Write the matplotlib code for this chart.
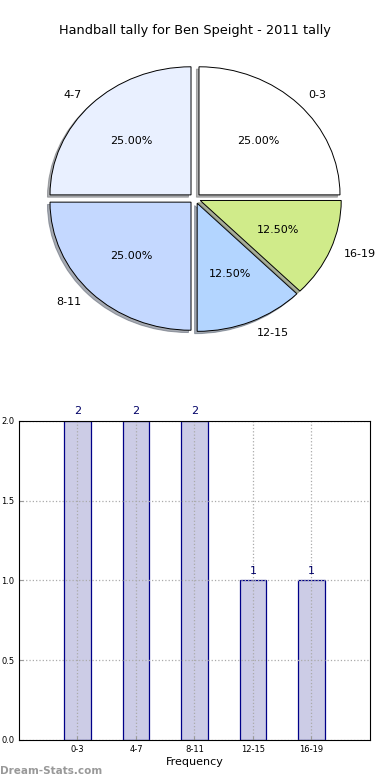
import matplotlib
matplotlib.use('Agg')
import matplotlib.pyplot as plt

# Datos
grupos = ['0-3', '4-7', '8-11', '12-15', '16-19']
frecuencias = [2, 2, 2, 1, 1]
colores_pie = ['#ffffff', '#e9f0ff', '#c4d8ff', '#b3d5ff', '#d0eb8a']
titulo = 'Handball tally for Ben Speight - 2011 tally'

fig = plt.figure(figsize=(3.9, 7.8), dpi=100)

# Grafico de torta (sin aspecto igual, como el original)
ax1 = fig.add_axes([0.03, 0.532, 0.94, 0.427])
wedges, textos, pcts = ax1.pie(frecuencias, labels=grupos, colors=colores_pie,
                               explode=[0.04] * len(grupos),
                               shadow={'ox': -0.013, 'oy': -0.013, 'shade': 0.6},
                               autopct='%1.2f%%', startangle=0,
                               wedgeprops={'edgecolor': 'black', 'linewidth': 0.7},
                               textprops={'fontsize': 8})
ax1.set_aspect('auto')
ax1.set_xlim(-1.3, 1.3)
ax1.set_ylim(-1.3, 1.3)
ax1.axis('off')
fig.text(0.5, 0.961, titulo, ha='center', va='center', fontsize=9.3)

# Grafico de barras
ax2 = fig.add_axes([0.0487, 0.0513, 0.9, 0.409])
pos = list(range(len(grupos)))
barras = ax2.bar(pos, frecuencias, width=0.45, color='#ccccE6', edgecolor='#000088', linewidth=0.9)
for b, v in zip(barras, frecuencias):
    ax2.text(b.get_x() + b.get_width() / 2, v + 0.03, str(v), ha='center', va='bottom',
             fontsize=8, color='#000066')
ax2.set_xlim(-1, 5)
ax2.set_ylim(0, 2)
ax2.set_xticks(pos)
ax2.set_xticklabels(grupos)
ax2.set_yticks([0, 0.5, 1.0, 1.5, 2.0])
ax2.tick_params(labelsize=6, direction='in', length=3, color='#999999')
ax2.grid(True, linestyle=':', color='#aaaaaa', linewidth=0.9)
ax2.set_axisbelow(False)
for s in ax2.spines.values():
    s.set_zorder(4)
ax2.set_xlabel('Frequency', fontsize=8, labelpad=2)

fig.text(0.0, 0.012, 'Dream-Stats.com', fontsize=7.5, color='#999999', fontweight='bold',
         ha='left', va='center')

plt.savefig('out.png', dpi=100)
